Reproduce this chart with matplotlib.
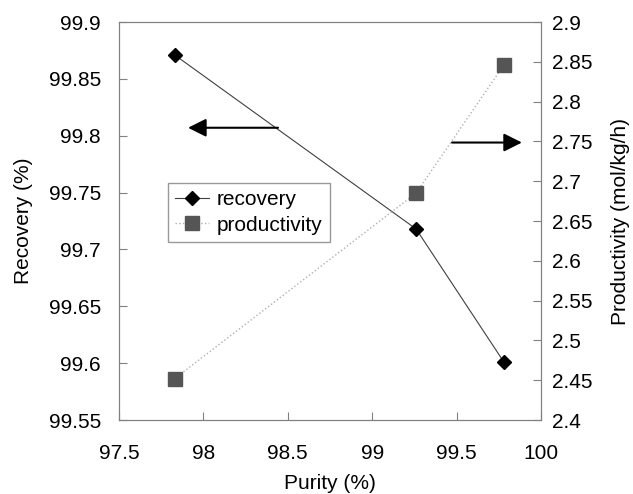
import matplotlib
matplotlib.use("Agg")
import matplotlib.pyplot as plt

plt.rcParams['font.family'] = ['Liberation Sans', 'DejaVu Sans']

purity = [97.83, 99.26, 99.78]
recovery = [99.871, 99.718, 99.601]
productivity = [2.452, 2.685, 2.846]

fig = plt.figure(figsize=(6.33, 4.94), dpi=100)
ax = fig.add_axes([119 / 633, 1 - 420 / 494, (541 - 119) / 633, (420 - 22) / 494])
ax2 = ax.twinx()

l1, = ax.plot(purity, recovery, color='#404040', lw=0.8, marker='D', ms=7,
              mfc='black', mec='black', label='recovery')
l2, = ax2.plot(purity, productivity, color='#b0b0b0', lw=1.0, ls=':', marker='s', ms=10,
               mfc='#555555', mec='#555555', label='productivity')

ax.set_xlim(97.5, 100)
ax.set_ylim(99.55, 99.9)
ax2.set_ylim(2.4, 2.9)
ax.set_xticks([97.5, 98, 98.5, 99, 99.5, 100])
ax.set_xticklabels(['97.5', '98', '98.5', '99', '99.5', '100'])
ax.set_yticks([99.55, 99.6, 99.65, 99.7, 99.75, 99.8, 99.85, 99.9])
ax.set_yticklabels(['99.55', '99.6', '99.65', '99.7', '99.75', '99.8', '99.85', '99.9'])
ax2.set_yticks([2.4, 2.45, 2.5, 2.55, 2.6, 2.65, 2.7, 2.75, 2.8, 2.85, 2.9])
ax2.set_yticklabels(['2.4', '2.45', '2.5', '2.55', '2.6', '2.65', '2.7', '2.75', '2.8', '2.85', '2.9'])

for a in (ax, ax2):
    for s in a.spines.values():
        s.set_color('#808080')
    a.tick_params(direction='in', length=6, color='#808080', labelsize=15)
ax.tick_params(axis='y', pad=13)
ax.tick_params(axis='x', pad=17)
ax2.tick_params(axis='y', pad=8)

ax.set_xlabel('Purity (%)', fontsize=15, labelpad=8)
ax.set_ylabel('Recovery (%)', fontsize=15, labelpad=11)
ax2.set_ylabel('Productivity (mol/kg/h)', fontsize=15, labelpad=13)

arrow = dict(arrowstyle='-|>,head_length=1.1,head_width=0.55', color='black',
             lw=1.5, shrinkA=0, shrinkB=0)
ax.annotate('', xy=(97.909, 99.807), xytext=(98.442, 99.807), arrowprops=arrow)
ax.annotate('', xy=(99.887, 99.794), xytext=(99.473, 99.794), arrowprops=arrow)

leg = ax.legend(handles=[l1, l2], loc='upper left', bbox_to_anchor=(0.116, 0.595),
                fontsize=15, frameon=True, fancybox=False, borderpad=0.35,
                labelspacing=0.3, handlelength=1.6, handletextpad=0.4, borderaxespad=0)
leg.get_frame().set_edgecolor('#808080')
leg.get_frame().set_linewidth(1.0)

fig.savefig('out.png', dpi=100)
